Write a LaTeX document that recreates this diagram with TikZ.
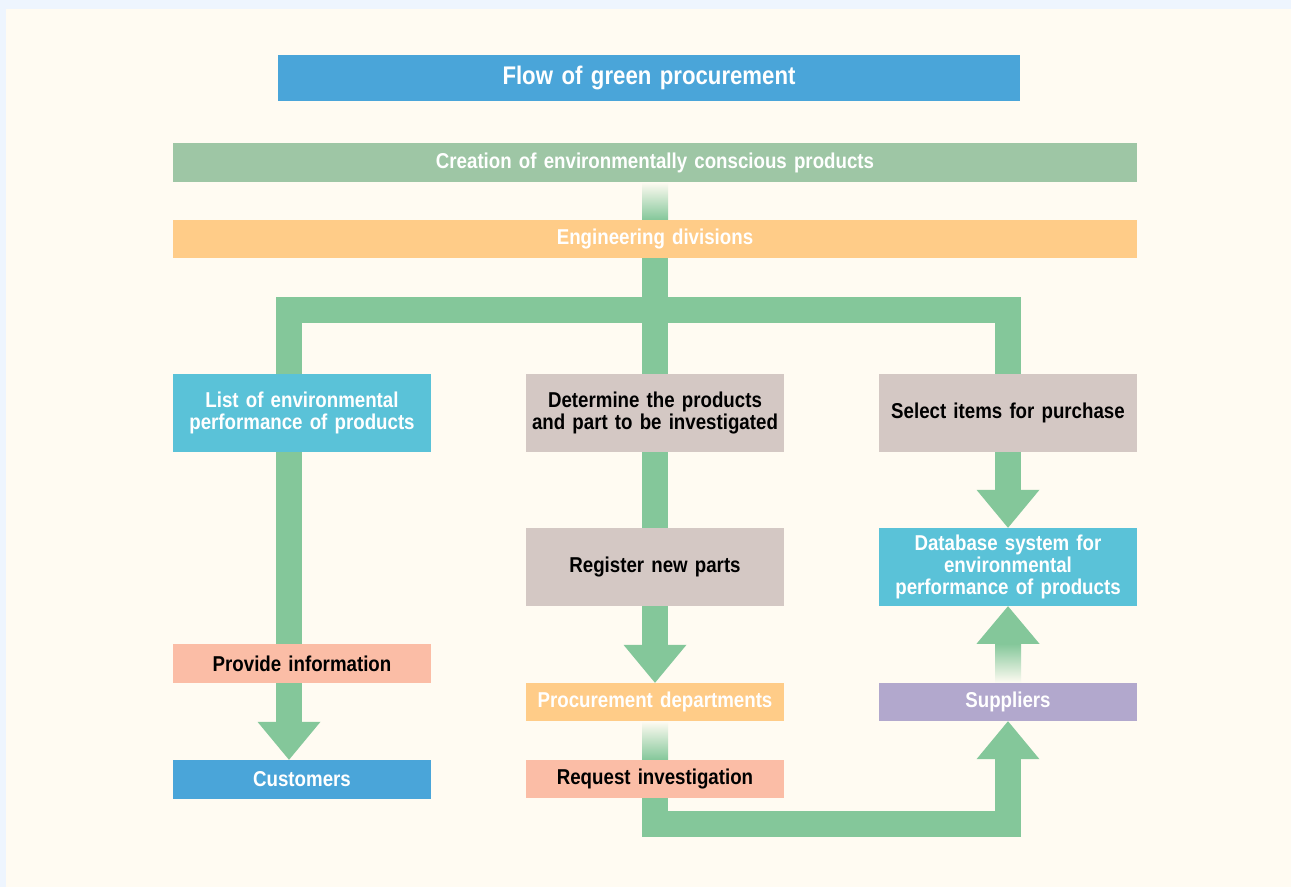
\documentclass[tikz,border=0pt]{standalone}
\usepackage{fontspec}
\setmainfont{Liberation Sans}[FakeStretch=0.87, WordSpace=0.75]
\usetikzlibrary{arrows.meta,calc}
\definecolor{pageblue}{HTML}{EEF5FE}
\definecolor{cream}{HTML}{FFFBF2}
\definecolor{flowgreen}{HTML}{84C79A}
\definecolor{sagegreen}{HTML}{9EC6A5}
\definecolor{titleblue}{HTML}{4AA5D9}
\definecolor{apricot}{HTML}{FFCC88}
\definecolor{cyanbox}{HTML}{5AC2D8}
\definecolor{greybox}{HTML}{D4C8C4}
\definecolor{salmonbox}{HTML}{FBBDA6}
\definecolor{lilac}{HTML}{B2A8CD}
\pgfdeclarelayer{page}
\pgfdeclarelayer{bg}
\pgfsetlayers{page,bg,main}
\begin{document}
\begin{tikzpicture}[x=1pt,y=-1pt,
  box/.style={inner sep=0pt, minimum width=258pt, minimum height=78pt,
    text width=250pt, align=center,
    font=\fontsize{21.5}{22}\selectfont\bfseries},
  strip/.style={box, minimum width=964pt, minimum height=38pt, text width=950pt},
  flow/.style={draw=flowgreen, line width=26pt, line join=miter},
  bigtip/.style={-{Triangle[width=63pt,length=38pt,line width=0pt]}},
  stemfade/.style={top color=cream, bottom color=flowgreen}]

% page
\begin{pgfonlayer}{page}
  \fill[pageblue] (0,0) rectangle (1291,887);
  \fill[cream] (6,9) rectangle (1291,887);
\end{pgfonlayer}
\useasboundingbox (0,0) rectangle (1291,887);

% boxes
\node[box, fill=titleblue, text=white, minimum width=742pt, minimum height=46pt,
  text width=730pt, font=\fontsize{25.5}{27}\selectfont\bfseries]
  (title) at (649,78) {Flow of green procurement};
\node[strip, fill=sagegreen, text=white, minimum height=39pt] (create) at (655,162.5)
  {Creation of environmentally conscious products};
\node[strip, fill=apricot, text=white] (eng) at (655,239) {Engineering divisions};

\node[box, fill=cyanbox, text=white] (list) at (302,413)
  {List of environmental\\performance of products};
\node[box, fill=greybox] (det) at (655,413)
  {Determine the products\\and part to be investigated};
\node[box, fill=greybox] (sel) at (1008,413) {Select items for purchase};
\node[box, fill=greybox] (reg) at (655,567) {Register new parts};
\node[box, fill=cyanbox, text=white] (db) at (1008,567)
  {Database system for\\environmental\\performance of products};

\node[box, fill=salmonbox, minimum height=39pt] (prov) at (302,663.5) {Provide information};
\node[box, fill=titleblue, text=white, minimum height=39pt] (cust) at (302,779.5) {Customers};
\node[box, fill=apricot, text=white, minimum height=38pt] (proc) at (655,702) {Procurement departments};
\node[box, fill=salmonbox, minimum height=38pt] (req) at (655,779) {Request investigation};
\node[box, fill=lilac, text=white, minimum height=38pt] (sup) at (1008,702) {Suppliers};

% connectors behind the boxes
\begin{pgfonlayer}{bg}
  \shade[stemfade] ($(create.south)+(-13,0)$) rectangle ($(eng.north)+(13,0)$);
  \draw[flow] (eng.south) -- (det.north);
  \coordinate (lt) at (289,310);
  \coordinate (rt) at (1008,310);
  \draw[flow] (list.north -| lt) -- (lt) -- (rt) -- (sel.north -| rt);
  \draw[flow, bigtip] (list.south -| lt) -- (cust.north -| lt);
  \draw[flow] (det.south) -- (reg.north);
  \draw[flow, bigtip] (reg.south) -- (proc.north);
  \shade[stemfade] ($(proc.south)+(-13,0)$) rectangle ($(req.north)+(13,0)$);
  \coordinate (lb) at (655,824);
  \coordinate (rb) at (1008,824);
  \draw[flow, bigtip] (req.south) -- (lb) -- (rb) -- (sup.south);
  \draw[flow, bigtip] (sel.south) -- (db.north);
  \shade[top color=flowgreen, bottom color=cream]
    ($(sup.north)+(-13,0)$) rectangle ($(sup.north)+(13,-39)$);
  \fill[flowgreen] ($(sup.north)+(-31.5,-39)$) -- (db.south) -- ($(sup.north)+(31.5,-39)$) -- cycle;
\end{pgfonlayer}
\end{tikzpicture}
\end{document}
